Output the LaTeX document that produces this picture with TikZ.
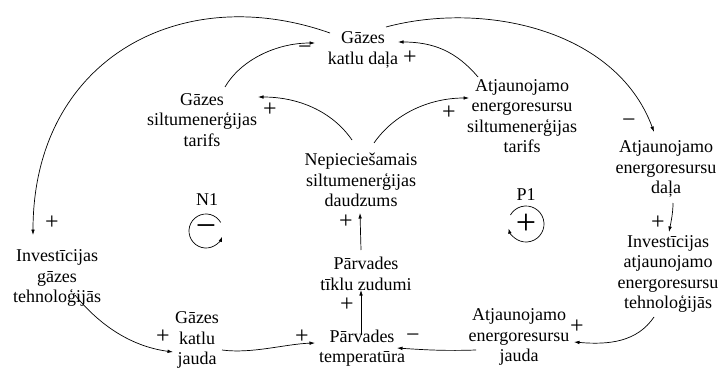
\documentclass[tikz,border=0pt]{standalone}
\usepackage{fontspec}
\setmainfont{Liberation Serif}
\newfontfamily\lserif{Liberation Serif}
\usetikzlibrary{arrows.meta}
\begin{document}
\begin{tikzpicture}[x=1pt,y=1pt,
  var/.style={align=center,font=\lserif\fontsize{18}{20.5}\selectfont,inner sep=0pt},
  pol/.style={font=\lserif\fontsize{24}{24}\selectfont,inner sep=0pt},
  link/.style={line width=0.7pt,-{Latex[length=5.5pt,width=3.6pt]}},
  looplbl/.style={font=\lserif\fontsize{18}{18}\selectfont,inner sep=0pt},
  loopsign/.style={font=\lserif\fontsize{36}{36}\selectfont,inner sep=0pt},
  ]
\useasboundingbox (0,0) rectangle (722,373);
\fill[white] (0,0) rectangle (722,373);

% variables
\node[var] (gkd) at (363,323) {Gāzes\\katlu daļa};
\node[var] (gst) at (202,253) {Gāzes\\siltumenerģijas\\tarifs};
\node[var] (nsd) at (361,193) {Nepieciešamais\\siltumenerģijas\\daudzums};
\node[var] (ptz) at (366,99) {Pārvades\\tīklu zudumi};
\node[var] (ptemp) at (362,25) {Pārvades\\temperatūra};
\node[var] (gkj) at (197,33) {Gāzes\\katlu\\jauda};
\node[var] (igt) at (57,95) {Investīcijas\\gāzes\\tehnoloģijās};
\node[var] (aest) at (522,257) {Atjaunojamo\\energoresursu\\siltumenerģijas\\tarifs};
\node[var] (aed) at (666,204) {Atjaunojamo\\energoresursu\\daļa};
\node[var] (iaet) at (668,99) {Investīcijas\\atjaunojamo\\energoresursu\\tehnoloģijās};
\node[var] (aej) at (519,36) {Atjaunojamo\\energoresursu\\jauda};

% connectors
\draw[link] ([shift={(-33,17)}]gkd.center) .. controls +(-150,53) and +(0,175) .. ([shift={(-24,43)}]igt.center);
\draw[link] ([shift={(23,33)}]gst.center) .. controls +(15,26) and +(-40,0) .. ([shift={(-48,7)}]gkd.center);
\draw[link] ([shift={(-9,40)}]nsd.center) .. controls +(-20,29) and +(40,0) .. ([shift={(56,23)}]gst.center);
\draw[link] ([shift={(13,37)}]nsd.center) .. controls +(20,29) and +(-40,0) .. ([shift={(-53,18)}]aest.center);
\draw[link] ([shift={(-44,39)}]aest.center) .. controls +(-22,26) and +(35,0) .. ([shift={(35,8)}]gkd.center);
\draw[link] ([shift={(23,23)}]gkd.center) .. controls +(97,26) and +(-38,103) .. ([shift={(-12,37)}]aed.center);
\draw[link] ([shift={(7,-34)}]aed.center) .. controls +(0,-10) and +(2,10) .. ([shift={(1,42)}]iaet.center);
\draw[link] ([shift={(-14,-43)}]iaet.center) .. controls +(-17,-25) and +(35,-3) .. ([shift={(55,-5)}]aej.center);
\draw[link] ([shift={(-43,-13)}]aej.center) .. controls +(-30,-1) and +(30,-2) .. ([shift={(35,0)}]ptemp.center);
\draw[link] ([shift={(25,-10)}]gkj.center) .. controls +(30,-4) and +(-30,-1) .. ([shift={(-47,5)}]ptemp.center);
\draw[link] ([shift={(18,-17)}]igt.center) .. controls +(22,-27) and +(-45,6) .. ([shift={(-24,-12)}]gkj.center);
\draw[link] ([shift={(-1,13)}]ptemp.center) -- ([shift={(-5,-16)}]ptz.center);
\draw[link] ([shift={(-5,24)}]ptz.center) -- ([shift={(-1,-33)}]nsd.center);

% polarities
\node[pol] (p1) at (52,150) {+};
\node[pol] (p2) at (305,323) {−};
\node[pol] (p3) at (270,263) {+};
\node[pol] (p4) at (449,260) {+};
\node[pol] (p5) at (410,315) {+};
\node[pol] (p6) at (629,250) {−};
\node[pol] (p7) at (658,150) {+};
\node[pol] (p8) at (577,46) {+};
\node[pol] (p9) at (413,35) {−};
\node[pol] (p10) at (302,36) {+};
\node[pol] (p11) at (163,36) {+};
\node[pol] (p12) at (347,68) {+};
\node[pol] (p13) at (346,151) {+};

% loop markers
\node[looplbl] (n1) at (207,173) {N1};
\node[loopsign] (n1s) at (206,142) {−};
\draw[line width=0.7pt,-{Latex[length=5pt,width=3.6pt]}] ([shift={(30:17)}]n1s.center) arc[start angle=30,end angle=340,radius=17];
\node[looplbl] (pp1) at (526,178) {P1};
\node[loopsign] (p1s) at (526,149) {+};
\draw[line width=0.7pt,-{Latex[length=5pt,width=3.6pt]}] ([shift={(150:18)}]p1s.center) arc[start angle=150,end angle=-165,radius=18];
\end{tikzpicture}
\end{document}
